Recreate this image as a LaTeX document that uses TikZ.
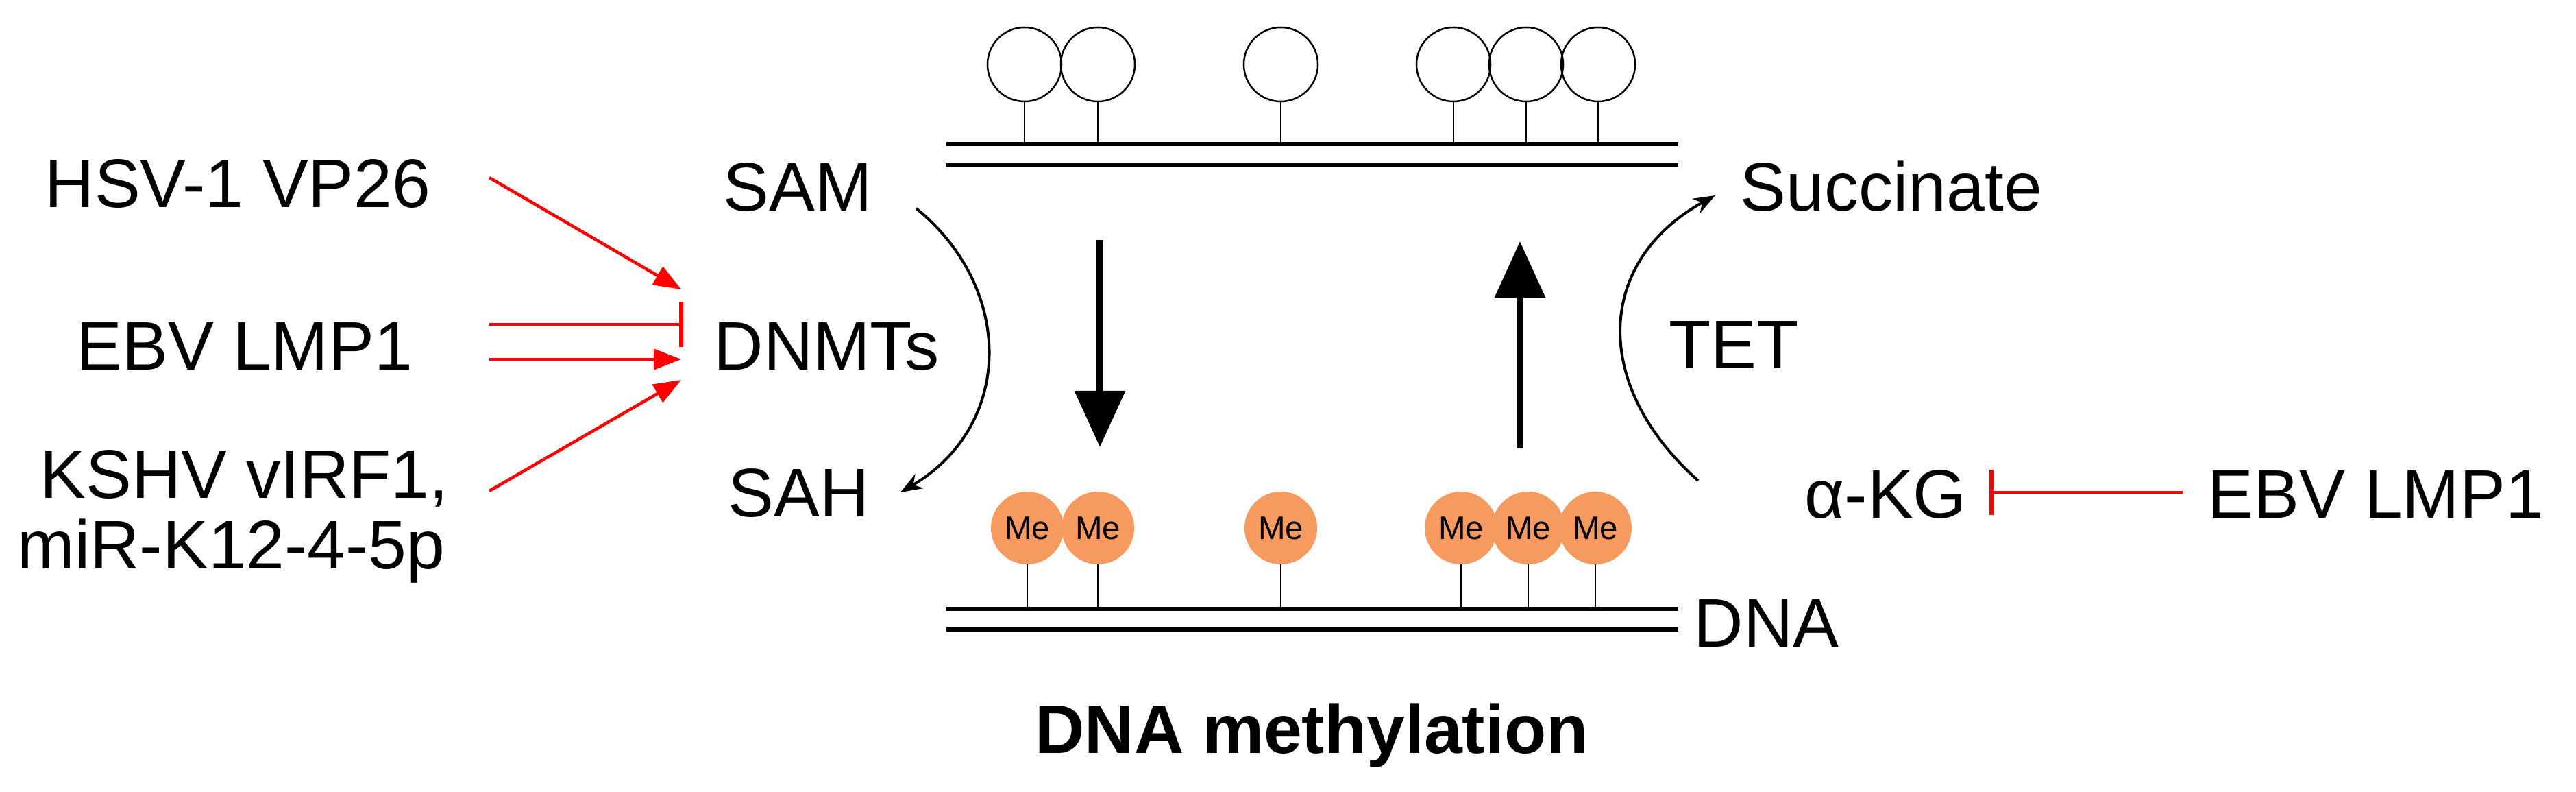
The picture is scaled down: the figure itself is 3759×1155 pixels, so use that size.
\documentclass[tikz,border=0pt]{standalone}
\usepackage{fontspec}
\setmainfont{Liberation Sans}
\usetikzlibrary{arrows.meta}
\definecolor{meorange}{RGB}{247,154,96}
\begin{document}
\begin{tikzpicture}[x=0.01cm,y=-0.01cm,
  lbl/.style={inner sep=0pt,anchor=base west,font=\fontsize{28.5}{34}\selectfont},
  red/.style={draw={rgb,255:red,255;green,0;blue,0},line width=0.045cm},
  act/.style={red,-{Triangle[length=0.4cm,width=0.3cm]}},
  inh/.style={red,-{Bar[width=0.66cm,line width=0.06cm]}},
  curv/.style={line width=0.04cm,-{Stealth[length=0.32cm,width=0.24cm]}},
  big/.style={line width=0.1cm,-{Triangle[length=0.82cm,width=0.72cm]}},
  strand/.style={line width=0.06cm},
  stem/.style={line width=0.022cm},
  open/.style={circle,draw,line width=0.025cm,minimum size=1.08cm,inner sep=0pt},
  me/.style={circle,fill=meorange,minimum size=1.06cm,inner sep=0pt,font=\fontsize{13.5}{16}\selectfont},
]
\useasboundingbox (0,0) rectangle (3759,1155);
% labels
\node[lbl] (hsv) at (65,303) {HSV-1 VP26};
\node[lbl] (ebvl) at (111,540) {EBV LMP1};
\node[lbl] (kshv) at (58,726) {KSHV vIRF1,};
\node[lbl] (mir) at (25,829) {miR-K12-4-5p};
\node[lbl] (sam) at (1055,308) {SAM};
\node[lbl] (dnmt) at (1041,540) {DNMTs};
\node[lbl] (sah) at (1062,753) {SAH};
\node[lbl] (succ) at (2539,308) {Succinate};
\node[lbl] (tet) at (2435,538) {TET};
\node[lbl] (akg) at (2633,755) {α-KG};
\node[lbl] (ebvr) at (3221,755) {EBV LMP1};
\node[lbl] (dna) at (2471,943) {DNA};
\node[inner sep=0pt,anchor=base,font=\bfseries\fontsize{28.5}{34}\selectfont] (title) at (1914,1098) {DNA methylation};
% red connectors
\coordinate (h0) at (714,259); \coordinate (h1) at (994,422);
\coordinate (e0) at (714,473); \coordinate (e1) at (997,473);
\coordinate (f0) at (714,524); \coordinate (f1) at (994,524);
\coordinate (k0) at (714,716); \coordinate (k1) at (994,554);
\draw[act] (h0) -- (h1);
\draw[inh] (e0) -- (e1);
\draw[act] (f0) -- (f1);
\draw[act] (k0) -- (k1);
\coordinate (r0) at (3186,718); \coordinate (r1) at (2903,718);
\draw[inh] (r0) -- (r1);
% curves
\coordinate (c0) at (1337,304); \coordinate (c1) at (1314,718);
\draw[curv] (c0) .. controls (1480,420) and (1480,620) .. (c1);
\coordinate (t0) at (2478,701); \coordinate (t1) at (2503,285);
\draw[curv] (t0) .. controls (2320,560) and (2330,380) .. (t1);
% big arrows
\coordinate (d0) at (1605,350); \coordinate (d1) at (1605,652);
\draw[big] (d0) -- (d1);
\coordinate (u0) at (2218,654); \coordinate (u1) at (2218,352);
\draw[big] (u0) -- (u1);
% strands
\coordinate (sa0) at (1381,210); \coordinate (sa1) at (2449,210);
\coordinate (sb0) at (1381,241); \coordinate (sb1) at (2449,241);
\draw[strand] (sa0) -- (sa1); \draw[strand] (sb0) -- (sb1);
\coordinate (sc0) at (1381,888); \coordinate (sc1) at (2449,888);
\coordinate (sd0) at (1381,918); \coordinate (sd1) at (2449,918);
\draw[strand] (sc0) -- (sc1); \draw[strand] (sd0) -- (sd1);
% open circles
\foreach \i/\x in {1/1495,2/1602,3/1869,4/2121,5/2227,6/2332}{
  \coordinate (ob\i) at (\x,208);
  \node[open] (o\i) at (\x,94) {};
  \draw[stem] (o\i.south) -- (ob\i);
}
% methyl circles
\foreach \i/\x in {1/1499,2/1602,3/1869,4/2132,5/2230,6/2328}{
  \coordinate (mb\i) at (\x,886);
  \draw[stem] (\x,823) -- (mb\i);
}
\foreach \i/\x in {1/1499,2/1602,3/1869,4/2132,5/2230,6/2328}{
  \node[me] (m\i) at (\x,770) {Me};
}
\end{tikzpicture}
\end{document}
